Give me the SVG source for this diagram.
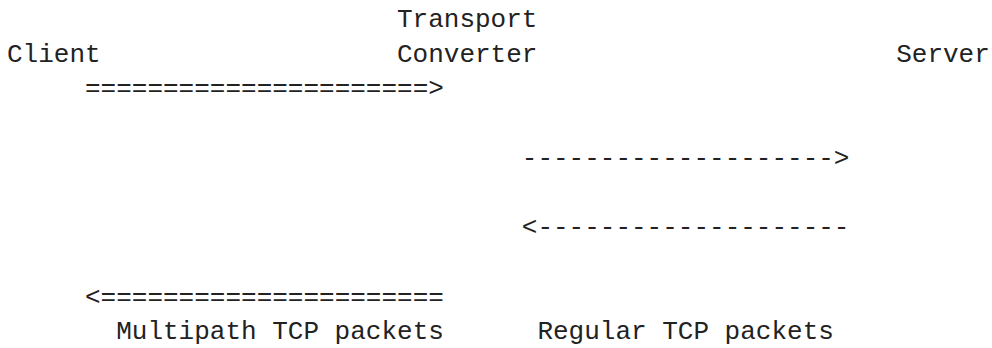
<svg xmlns="http://www.w3.org/2000/svg" width="992" height="348" viewBox="0 0 992 348">
<style>
text{font-family:"Liberation Mono","DejaVu Sans Mono",monospace;font-size:26px;fill:#222;white-space:pre}
</style>
<rect width="992" height="348" fill="#fff"/>
<g id="client"><text x="7" y="61.7">Client</text></g>
<g id="converter"><text x="397" y="27">Transport</text><text x="397" y="61.7">Converter</text></g>
<g id="server"><text x="896.2" y="61.7">Server</text></g>
<g id="connectors">
<text x="85" y="96.4">======================&gt;</text>
<text x="521.8" y="165.8">--------------------&gt;</text>
<text x="521.8" y="235.2">&lt;--------------------</text>
<text x="85" y="304.6">&lt;======================</text>
</g>
<g id="labels">
<text x="116.2" y="339.3">Multipath TCP packets</text>
<text x="537.4" y="339.3">Regular TCP packets</text>
</g>
</svg>
